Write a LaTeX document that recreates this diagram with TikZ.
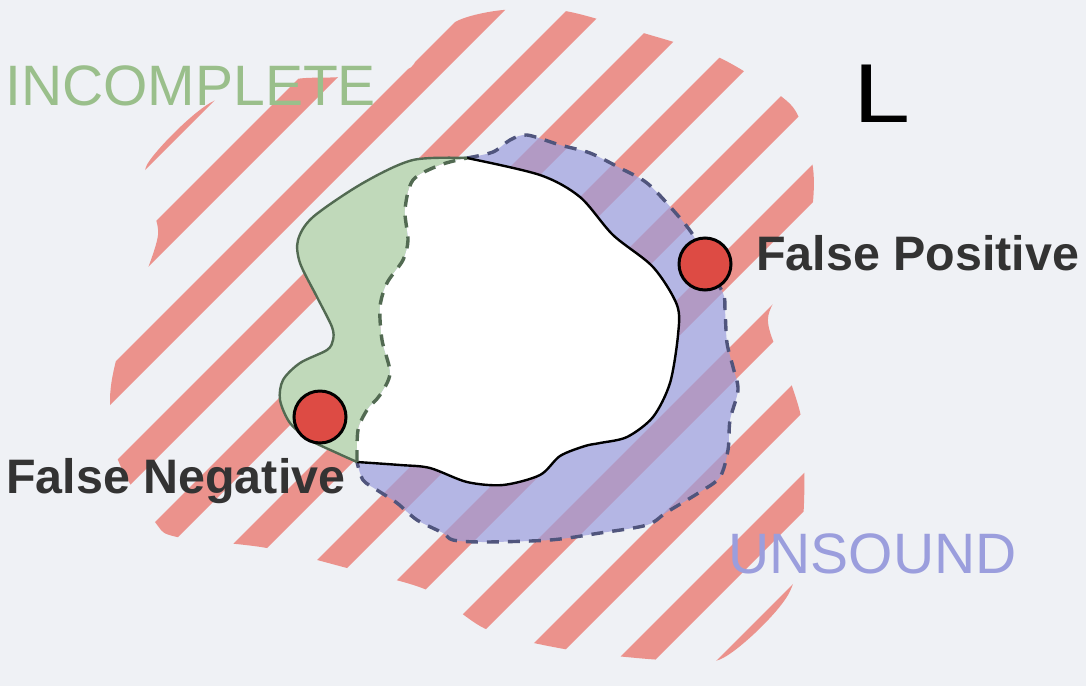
\documentclass[tikz,border=0pt]{standalone}
\usepackage{fontspec}
\setmainfont{Liberation Sans}
\usepackage{xcolor}
\definecolor{canvasgray}{RGB}{239,241,245}
\definecolor{hatchred}{RGB}{235,146,140}
\definecolor{incgreen}{RGB}{192,217,186}
\definecolor{incgreentext}{RGB}{154,191,139}
\definecolor{incline}{RGB}{82,106,82}
\definecolor{unsblue}{RGB}{155,158,221}
\definecolor{unsline}{RGB}{80,85,125}
\definecolor{dotred}{RGB}{221,75,68}
\definecolor{labeldark}{RGB}{51,51,51}

\begin{document}
\begin{tikzpicture}[x=0.5pt, y=-0.5pt,
  dotmark/.style={circle, fill=dotred, draw=black, line width=1.5pt,
    minimum size=26pt, inner sep=0pt},
  casetext/.style={inner sep=0pt, text=labeldark,
    font=\bfseries\fontsize{24.2}{29}\selectfont},
  bigword/.style={inner sep=0pt, font=\fontsize{28.5}{34}\selectfont},
  dashedge/.style={line width=1.7pt, dash pattern=on 6pt off 4.5pt},
  solidedge/.style={line width=1.2pt}
]
  \useasboundingbox (0,0) rectangle (1086,686);
  \fill[canvasgray] (0,0) rectangle (1086,686);

  % hatched language region
  \begin{scope}
    \clip plot[smooth cycle] coordinates {(148,163) (210,103) (290,80) (340,77)
      (405,70) (420,55) (455,22) (503,10) (565,11) (640,32) (720,58) (782,97)
      (800,120) (813,168) (812,210) (800,260) (768,318) (790,380) (803,430)
      (803,520) (788,595) (723,658) (663,660) (570,650) (488,630) (427,590)
      (347,568) (267,548) (177,537) (155,522) (118,460) (110,400) (118,353)
      (140,290) (158,235) (150,200)};
    \foreach \c in {277,377,...,1377}
      \fill[hatchred] (\c+100,-100) -- (\c+138,-100) -- (\c-762,800)
        -- (\c-800,800) -- cycle;
  \end{scope}

  % incomplete part
  \fill[incgreen] plot[smooth] coordinates {(467,158) (413,160) (363,183)
      (313,217) (298,240) (300,263) (317,297) (332,327) (333,340) (327,350)
      (300,363) (283,380) (280,400) (290,423) (310,440) (337,453) (357,462)}
    -- plot[smooth] coordinates {(357,462) (358,430) (367,410) (380,395)
      (390,373) (382,340) (380,307) (387,283) (403,260) (408,240) (405,210)
      (413,180) (440,165) (467,158)} -- cycle;

  % unsound part
  \fill[unsblue, fill opacity=0.7] plot[smooth] coordinates {(467,158)
      (493,152) (510,140) (527,135) (560,145) (590,153) (620,168) (647,183)
      (673,210) (693,235) (705,263) (723,293) (725,310) (727,343) (733,367)
      (738,390) (730,420) (728,450) (720,477) (700,492) (667,512) (647,525)
      (600,533) (550,540) (483,542) (453,540) (443,533) (417,520) (397,503)
      (377,490) (363,480) (357,462)}
    -- plot[smooth] coordinates {(357,462) (358,430) (367,410) (380,395)
      (390,373) (382,340) (380,307) (387,283) (403,260) (408,240) (405,210)
      (413,180) (440,165) (467,158)} -- cycle;
  \draw[unsline, dashedge] plot[smooth] coordinates {(467,158)
      (493,152) (510,140) (527,135) (560,145) (590,153) (620,168) (647,183)
      (673,210) (693,235) (705,263) (723,293) (725,310) (727,343) (733,367)
      (738,390) (730,420) (728,450) (720,477) (700,492) (667,512) (647,525)
      (600,533) (550,540) (483,542) (453,540) (443,533) (417,520) (397,503)
      (377,490) (363,480) (357,462)};

  % exact set
  \fill[white] plot[smooth] coordinates {(467,158) (540,175) (580,197)
      (613,235) (653,267) (677,305) (678,335) (670,383) (653,417) (627,437)
      (600,443) (585,446) (560,456) (540,475) (503,485) (467,482) (430,468)
      (400,465) (357,462)}
    -- plot[smooth] coordinates {(357,462) (358,430) (367,410) (380,395)
      (390,373) (382,340) (380,307) (387,283) (403,260) (408,240) (405,210)
      (413,180) (440,165) (467,158)} -- cycle;
  \draw[black, solidedge] plot[smooth] coordinates {(467,158) (540,175)
      (580,197) (613,235) (653,267) (677,305) (678,335) (670,383) (653,417)
      (627,437) (600,443) (585,446) (560,456) (540,475) (503,485) (467,482)
      (430,468) (400,465) (357,462)};
  \draw[incline, solidedge] plot[smooth] coordinates {(467,158) (413,160)
      (363,183) (313,217) (298,240) (300,263) (317,297) (332,327) (333,340)
      (327,350) (300,363) (283,380) (280,400) (290,423) (310,440) (337,453)
      (357,462)};
  \draw[incline, dashedge] plot[smooth] coordinates {(357,462) (358,430)
      (367,410) (380,395) (390,373) (382,340) (380,307) (387,283) (403,260)
      (408,240) (405,210) (413,180) (440,165) (467,158)};

  \node[dotmark] (fp) at (705,264) {};
  \node[dotmark] (fn) at (320,417) {};

  \node[casetext, anchor=base west] (fplabel) at (756,270) {False Positive};
  \node[casetext, anchor=base west] (fnlabel) at (6,493) {False Negative};
  \node[bigword, text=incgreentext, anchor=base west] (incomplete) at (5,105)
    {INCOMPLETE};
  \node[bigword, text=unsblue, anchor=base west] (unsound) at (728,573)
    {UNSOUND};
  \node[inner sep=0pt, anchor=base west, font=\fontsize{38}{40}\selectfont]
    (lang) at (853,122) {\scalebox{1.35}[1.1]{L}};
\end{tikzpicture}
\end{document}
